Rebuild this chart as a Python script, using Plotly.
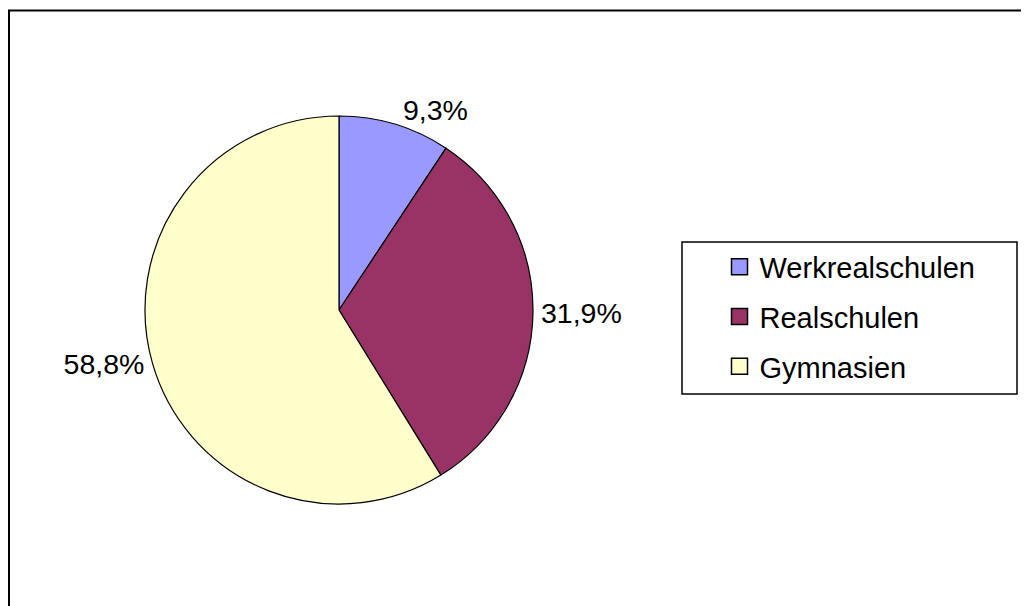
"""Pie chart: Verteilung auf Schularten (Werkrealschulen / Realschulen / Gymnasien)."""

import plotly.graph_objects as go

# data
SCHOOL_TYPES = ["Werkrealschulen", "Realschulen", "Gymnasien"]
SHARES = [9.3, 31.9, 58.8]
SLICE_COLORS = ["#9999FF", "#993366", "#FFFFCC"]

FONT = "Arial, Liberation Sans, sans-serif"
# page has an 8px body margin, so the figure is 8px smaller than the window
W, H = 1021, 598


def px_x(v):
    return v / W


def px_y(v):
    return 1 - v / H


fig = go.Figure()

fig.add_trace(
    go.Pie(
        labels=SCHOOL_TYPES,
        values=SHARES,
        sort=False,
        direction="clockwise",
        rotation=0,
        marker=dict(colors=SLICE_COLORS, line=dict(color="black", width=1.2)),
        textposition="outside",
        texttemplate="%{percent:.1%}",
        outsidetextfont=dict(family=FONT, size=28.5, color="black"),
        showlegend=False,
        hoverinfo="label+percent",
        domain=dict(x=[px_x(137), px_x(525)], y=[px_y(496), px_y(108)]),
    )
)

# legend entries (square swatches like the original), one group each for the spacing
for name, col in zip(SCHOOL_TYPES, SLICE_COLORS):
    fig.add_trace(
        go.Scatter(
            x=[None],
            y=[None],
            mode="markers",
            name=name,
            legendgroup=name,
            marker=dict(symbol="square", size=16, color=col,
                        line=dict(color="black", width=1.5)),
        )
    )

fig.update_layout(
    width=W,
    height=H,
    margin=dict(l=0, r=0, t=0, b=0),
    paper_bgcolor="white",
    plot_bgcolor="white",
    separators=",.",
    font=dict(family=FONT, size=29, color="black"),
    xaxis=dict(visible=False),
    yaxis=dict(visible=False),
    legend=dict(
        x=px_x(681.5),
        y=px_y(233.5),
        xanchor="left",
        yanchor="top",
        borderwidth=0,
        bgcolor="rgba(0,0,0,0)",
        tracegroupgap=9,
        indentation=30,
        font=dict(family=FONT, size=29, color="black"),
    ),
    shapes=[
        # outer frame of the chart area (cut off at right/bottom in the original)
        dict(type="rect", xref="paper", yref="paper",
             x0=px_x(1), x1=1.05, y0=-0.05, y1=px_y(2.5),
             line=dict(color="black", width=2), fillcolor="rgba(0,0,0,0)"),
        # legend frame
        dict(type="rect", xref="paper", yref="paper",
             x0=px_x(674), x1=px_x(1009), y0=px_y(386), y1=px_y(234),
             line=dict(color="black", width=1.5), fillcolor="white",
             layer="below"),
    ],
)

fig.write_html("out.html")
